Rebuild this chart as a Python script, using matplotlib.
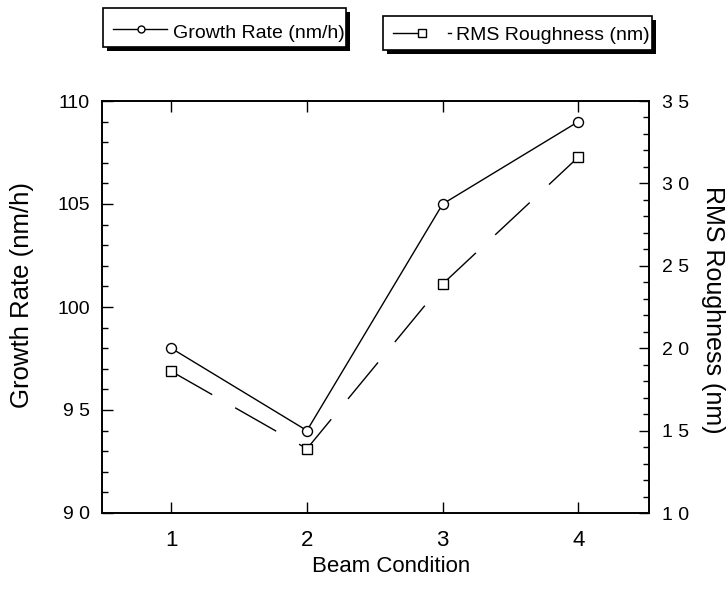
import matplotlib
matplotlib.use("Agg")
import matplotlib.pyplot as plt
from matplotlib.ticker import MultipleLocator, FixedLocator, FixedFormatter
from matplotlib.patches import Rectangle
from matplotlib.lines import Line2D

plt.rcParams['font.family'] = ['Liberation Sans', 'DejaVu Sans']

# ---- data ----
conditions = [1, 2, 3, 4]
growth_rate = [98.0, 94.0, 105.0, 109.0]      # nm/h (left axis)
rms_roughness = [18.6, 13.9, 23.9, 31.6]      # nm (right axis)
x_ticks = [1, 2, 3, 4]
x_ticklabels = ['1', '2', '3', '4']
left_ticks = [90, 95, 100, 105, 110]
left_ticklabels = ['9 0', '9 5', '100', '105', '110']
right_ticks = [10, 15, 20, 25, 30, 35]
right_ticklabels = ['1 0', '1 5', '2 0', '2 5', '3 0', '3 5']
growth_label = 'Growth Rate (nm/h)'
rms_label = 'RMS Roughness (nm)'
x_label = 'Beam Condition'

W, H = 727, 591
def fx(x):
    return x / W
def fy(y):
    return 1 - y / H

fig = plt.figure(figsize=(W / 100, H / 100), dpi=100)
ax = fig.add_axes([fx(102), fy(513), (649 - 102) / W, (513 - 101) / H])
ax2 = ax.twinx()

# growth rate: solid with hollow circles
ax.plot(conditions, growth_rate, color='black', lw=1.0, marker='o', ms=7.2,
        mfc='white', mec='black', mew=1.0, zorder=3)
# roughness: long dashes with hollow squares
ax2.plot(conditions, rms_roughness, color='black', lw=1.0, linestyle=(0, (34, 19)),
         marker='s', ms=7, mfc='white', mec='black', mew=1.0, zorder=3)

ax.set_xlim(0.49, 4.52)
ax.set_ylim(90, 110)
ax2.set_ylim(10, 35)

ax.xaxis.set_major_locator(FixedLocator(x_ticks))
ax.xaxis.set_major_formatter(FixedFormatter(x_ticklabels))
ax.yaxis.set_major_locator(FixedLocator(left_ticks))
ax.yaxis.set_major_formatter(FixedFormatter(left_ticklabels))
ax.yaxis.set_minor_locator(MultipleLocator(1))
ax2.yaxis.set_major_locator(FixedLocator(right_ticks))
ax2.yaxis.set_major_formatter(FixedFormatter(right_ticklabels))
ax2.yaxis.set_minor_locator(MultipleLocator(1))

ax.tick_params(axis='x', which='major', direction='in', top=True, bottom=True,
               length=8, width=1.0, labelsize=16, pad=12.5)
ax.tick_params(axis='y', which='major', direction='in', left=True, right=False,
               length=8, width=1.0, labelsize=14, pad=8.6)
ax.tick_params(axis='y', which='minor', direction='in', left=True, right=False,
               length=4.5, width=1.0)
ax2.tick_params(axis='y', which='major', direction='in', right=True, left=False,
                length=7, width=1.0, labelsize=14, pad=9.4)
ax2.tick_params(axis='y', which='minor', direction='in', right=True, left=False,
                length=4, width=1.0)
ax2.tick_params(axis='x', which='both', bottom=False, top=False,
                labelbottom=False, labeltop=False)

for a in (ax, ax2):
    for s in a.spines.values():
        s.set_linewidth(1.2)
        s.set_color('black')

# axis labels
fig.text(fx(391), fy(572), x_label, ha='center', va='baseline', fontsize=16)
fig.text(fx(22.5), fy(295), growth_label, ha='center', va='center',
         rotation=90, fontsize=18.5)
fig.text(fx(713), fy(310), rms_label, ha='center', va='center',
         rotation=270, fontsize=18)

# legend boxes with drop shadows
def shadow_box(x0, y0, x1, y1, off=4):
    fig.add_artist(Rectangle((fx(x0 + off), fy(y1 + off)), (x1 - x0) / W, (y1 - y0) / H,
                             transform=fig.transFigure, facecolor='black',
                             edgecolor='black', lw=0, zorder=5))
    fig.add_artist(Rectangle((fx(x0), fy(y1)), (x1 - x0) / W, (y1 - y0) / H,
                             transform=fig.transFigure, facecolor='white',
                             edgecolor='black', lw=1.2, zorder=6))

shadow_box(103, 8, 346, 47)
shadow_box(383, 16, 652, 50)

fig.add_artist(Line2D([fx(113), fx(167)], [fy(29), fy(29)], transform=fig.transFigure,
                      color='black', lw=1.0, zorder=7))
fig.add_artist(Line2D([fx(141)], [fy(29)], transform=fig.transFigure, marker='o', ms=5,
                      mfc='white', mec='black', mew=1.0, zorder=8))
fig.text(fx(173), fy(37.5), growth_label, ha='left', va='baseline', fontsize=14, zorder=8)

fig.add_artist(Line2D([fx(393), fx(418)], [fy(33), fy(33)], transform=fig.transFigure,
                      color='black', lw=1.0, zorder=7))
fig.add_artist(Line2D([fx(448), fx(451)], [fy(33), fy(33)], transform=fig.transFigure,
                      color='black', lw=1.0, zorder=7))
fig.add_artist(Line2D([fx(422)], [fy(33)], transform=fig.transFigure, marker='s', ms=5.5,
                      mfc='white', mec='black', mew=1.0, zorder=8))
fig.text(fx(456), fy(40), rms_label, ha='left', va='baseline', fontsize=14, zorder=8)

fig.savefig('out.png', dpi=100)
